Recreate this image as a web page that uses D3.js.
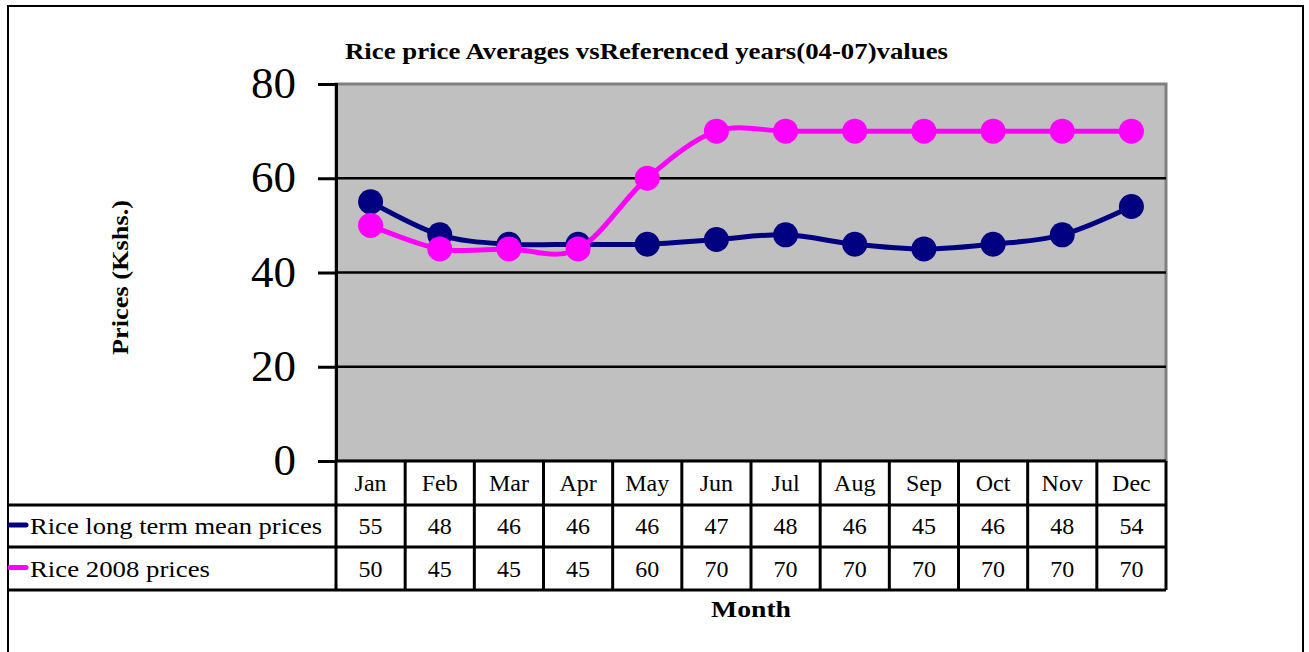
<!DOCTYPE html>
<html>
<head>
<meta charset="utf-8">
<script src="https://cdn.jsdelivr.net/npm/d3@7"></script>
<style>
  body { margin: 0; background: #fff; }
  text { font-family: "Liberation Serif", "Times New Roman", serif; }
</style>
</head>
<body>
<script>
const months = ["Jan", "Feb", "Mar", "Apr", "May", "Jun", "Jul", "Aug", "Sep", "Oct", "Nov", "Dec"]
const longTermMean = [55, 48, 46, 46, 46, 47, 48, 46, 45, 46, 48, 54]
const prices2008 = [50, 45, 45, 45, 60, 70, 70, 70, 70, 70, 70, 70]
const seriesNames = ["Rice long term mean prices", "Rice 2008 prices"]
const seriesColors = ["#000080", "#ff00ff"]
const yTicks = [0, 20, 40, 60, 80]

const width = 1309, height = 652
const plot = { left: 336, right: 1166, top: 84, bottom: 461 }
const rowH = [44, 42, 43] // table rows: header, series 1, series 2

const svg = d3.select("body").append("svg")
  .attr("width", width).attr("height", height)

// outer frame
svg.append("rect")
  .attr("x", 8).attr("y", 6).attr("width", 1295).attr("height", 660)
  .attr("fill", "#fff").attr("stroke", "#000").attr("stroke-width", 2)

const x = d3.scaleBand().domain(months).range([plot.left, plot.right])
const y = d3.scaleLinear().domain([0, 80]).range([plot.bottom, plot.top])

// plot background
svg.append("rect")
  .attr("x", plot.left).attr("y", plot.top)
  .attr("width", plot.right - plot.left).attr("height", plot.bottom - plot.top)
  .attr("fill", "#c0c0c0").attr("stroke", "#808080").attr("stroke-width", 3)

// gridlines
svg.append("g").selectAll("line")
  .data(yTicks.filter(d => d > 0 && d < 80))
  .join("line")
  .attr("x1", plot.left).attr("x2", plot.right)
  .attr("y1", d => y(d)).attr("y2", d => y(d))
  .attr("stroke", "#000").attr("stroke-width", 2.5)

// y axis
const yAxis = d3.axisLeft(y).tickValues(yTicks).tickSize(18).tickPadding(22)
svg.append("g")
  .attr("transform", `translate(${plot.left},0)`)
  .call(yAxis)
  .call(g => g.select(".domain").attr("stroke", "#000").attr("stroke-width", 3))
  .call(g => g.selectAll(".tick line").attr("stroke", "#000").attr("stroke-width", 3))
  .call(g => g.selectAll(".tick text")
    .attr("font-family", "'Liberation Serif', serif")
    .attr("font-size", 45).attr("fill", "#000").attr("dy", "0.3em"))

// lines and markers
const line = d3.line()
  .x((d, i) => x(months[i]) + x.bandwidth() / 2)
  .y(d => y(d))
  .curve(d3.curveCardinal.tension(0))

const seriesData = [longTermMean, prices2008]
seriesData.forEach((vals, s) => {
  const g = svg.append("g")
  g.append("path")
    .attr("d", line(vals))
    .attr("fill", "none")
    .attr("stroke", seriesColors[s])
    .attr("stroke-width", 5)
  g.selectAll("circle")
    .data(vals)
    .join("circle")
    .attr("cx", (d, i) => x(months[i]) + x.bandwidth() / 2)
    .attr("cy", d => y(d))
    .attr("r", 12.5)
    .attr("fill", seriesColors[s])
})

// data table
const tY0 = plot.bottom
const tY1 = tY0 + rowH[0]
const tY2 = tY1 + rowH[1]
const tY3 = tY2 + rowH[2]
const tbl = svg.append("g")

tbl.append("rect")
  .attr("x", plot.left).attr("y", tY0)
  .attr("width", plot.right - plot.left).attr("height", rowH[0])
  .attr("fill", "#fff")

const hLines = [
  [plot.left, plot.right, tY0],
  [8, plot.right, tY1],
  [8, plot.right, tY2],
  [8, plot.right, tY3]
]
tbl.selectAll("line.h")
  .data(hLines)
  .join("line")
  .attr("class", "h")
  .attr("x1", d => d[0]).attr("x2", d => d[1])
  .attr("y1", d => d[2]).attr("y2", d => d[2])
  .attr("stroke", "#000").attr("stroke-width", 3)

tbl.selectAll("line.v")
  .data(months.map(m => x(m)).concat([plot.right]))
  .join("line")
  .attr("class", "v")
  .attr("x1", d => d).attr("x2", d => d)
  .attr("y1", tY0).attr("y2", tY3)
  .attr("stroke", "#000").attr("stroke-width", 3)

tbl.selectAll("text.month")
  .data(months)
  .join("text")
  .attr("class", "month")
  .attr("x", d => x(d) + x.bandwidth() / 2)
  .attr("y", (tY0 + tY1) / 2 + 8)
  .attr("text-anchor", "middle")
  .attr("font-size", 24)
  .text(d => d)

const rowMid = [(tY1 + tY2) / 2, (tY2 + tY3) / 2]
const legendLen = [292, 180]
seriesData.forEach((vals, s) => {
  tbl.selectAll(`text.val${s}`)
    .data(vals)
    .join("text")
    .attr("class", `val${s}`)
    .attr("x", (d, i) => x(months[i]) + x.bandwidth() / 2)
    .attr("y", rowMid[s] + 8)
    .attr("text-anchor", "middle")
    .attr("font-size", 24)
    .text(d => d)
  tbl.append("line")
    .attr("x1", 10).attr("x2", 26)
    .attr("y1", rowMid[s] - 1).attr("y2", rowMid[s] - 1)
    .attr("stroke", seriesColors[s]).attr("stroke-width", 5)
    .attr("stroke-linecap", "round")
  tbl.append("text")
    .attr("x", 30).attr("y", rowMid[s] + 8)
    .attr("font-size", 24)
    .attr("textLength", legendLen[s]).attr("lengthAdjust", "spacingAndGlyphs")
    .text(seriesNames[s])
})

// titles
svg.append("text")
  .attr("x", 345).attr("y", 59)
  .attr("font-size", 23).attr("font-weight", "bold")
  .attr("textLength", 603).attr("lengthAdjust", "spacingAndGlyphs")
  .text("Rice price Averages vsReferenced years(04-07)values")

svg.append("text")
  .attr("transform", "translate(128,355) rotate(-90)")
  .attr("font-size", 23).attr("font-weight", "bold")
  .attr("textLength", 155).attr("lengthAdjust", "spacingAndGlyphs")
  .text("Prices (Kshs.)")

svg.append("text")
  .attr("x", 711).attr("y", 617)
  .attr("font-size", 23).attr("font-weight", "bold")
  .attr("textLength", 80).attr("lengthAdjust", "spacingAndGlyphs")
  .text("Month")
</script>
</body>
</html>
